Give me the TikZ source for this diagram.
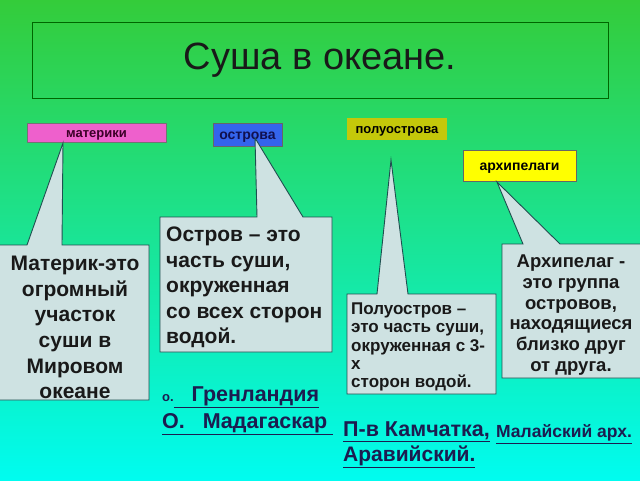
\documentclass[tikz,border=0pt]{standalone}
\usepackage{fontspec}
\setmainfont{Liberation Sans}
\definecolor{bgtop}{RGB}{52,204,58}
\definecolor{bgmid}{RGB}{30,222,140}
\definecolor{bgbot}{RGB}{0,252,240}
\definecolor{callfill}{RGB}{206,226,226}
\definecolor{callline}{RGB}{30,80,80}
\definecolor{navy}{RGB}{28,28,80}
\definecolor{pinkbox}{RGB}{238,96,204}
\definecolor{bluebox}{RGB}{52,100,236}
\definecolor{olivebox}{RGB}{196,200,10}
\definecolor{yelbox}{RGB}{255,255,0}
\begin{document}
\begin{tikzpicture}[x=1pt,y=-1pt,
  callout/.style={fill=callfill, draw=callline, line width=0.9pt, line join=miter},
  lab/.style={font=\bfseries\fontsize{13}{15}\selectfont, inner sep=0pt, text height=9pt, text depth=0pt},
  bigtxt/.style={font=\bfseries\fontsize{21}{25.6}\selectfont, text=black!90, inner sep=0pt},
  ex/.style={text=navy, inner sep=0pt, anchor=west}
]
\shade[top color=bgtop, middle color=bgmid, bottom color=bgbot] (0,0) rectangle (640,480);
\useasboundingbox (0,0) rectangle (640,480);

% title
\node[draw=black!60!green, line width=0.8pt, minimum width=576pt, minimum height=76pt,
      font=\fontsize{38}{40}\selectfont, text=black!90] (title) at (320,60) {Суша в океане.};

% labels
\node[lab, fill=pinkbox, draw=black!55, minimum width=139pt, minimum height=19pt, text={rgb,255:red,60;green,0;blue,40}] (mat) at (96.5,132.5) {материки};
\node[lab, fill=bluebox, draw=black!60, minimum width=69pt, minimum height=23pt, text={rgb,255:red,16;green,16;blue,80}, font=\bfseries\fontsize{14}{15}\selectfont] (ostr) at (247.5,134.5) {острова};
\node[lab, fill=olivebox, minimum width=100pt, minimum height=22pt] (polu) at (397,129) {полуострова};
\node[lab, fill=yelbox, draw=black!60, minimum width=113pt, minimum height=31pt, font=\bfseries\fontsize{14}{15}\selectfont] (arch) at (519.5,165.5) {архипелаги};

% callout tips
\coordinate (tmat) at (63,143);
\coordinate (tostr) at (255,138);
\coordinate (tpolu) at (391,160);
\coordinate (tarch) at (497,182);

% callouts
\draw[callout] (-2,245) -- (27,245) -- (tmat) -- (62,245) -- (149,245) -- (149,400) -- (-2,400) -- cycle;
\draw[callout] (160,217) -- (257,217) -- (tostr) -- (303,217) -- (332,217) -- (332,352) -- (160,352) -- cycle;
\draw[callout] (347,294) -- (377,294) -- (tpolu) -- (408,294) -- (496,294) -- (496,394) -- (347,394) -- cycle;
\draw[callout] (502,244) -- (523,244) -- (tarch) -- (560,244) -- (642,244) -- (642,378) -- (502,378) -- cycle;

% callout texts
\node[bigtxt, align=center] (tmattxt) at (75,327.5) {Материк-это\\огромный\\участок\\суши в\\Мировом\\океане};
\node[bigtxt, align=left, anchor=west] (tostrtxt) at (166,287.5) {Остров – это\\часть суши,\\окруженная\\со всех сторон\\водой.};
\node[font=\bfseries\fontsize{17}{18.2}\selectfont, text=black!90, inner sep=0pt, align=left, anchor=west] (tpolutxt) at (351,347) {Полуостров –\\это часть суши,\\окруженная с 3-\\х\\сторон водой.};
\node[font=\bfseries\fontsize{18.5}{20.8}\selectfont, text=black!90, inner sep=0pt, align=center] (tarchtxt) at (571,315) {Архипелаг -\\это группа\\островов,\\находящиеся\\близко друг\\от друга.};

% examples
\node[ex, font=\bfseries\fontsize{21.5}{22}\selectfont] (ex1) at (162,397) {{\fontsize{13}{14}\selectfont о.}\underline{\ \ \ Гренландия}};
\node[ex, font=\bfseries\fontsize{21.5}{22}\selectfont] (ex2) at (162,424) {\underline{О.\ \ \ Мадагаскар\ }};
\node[ex, font=\bfseries\fontsize{21.5}{22}\selectfont] (ex3) at (343,432) {\underline{П-в Камчатка,}};
\node[ex, font=\bfseries\fontsize{17.5}{18}\selectfont] (ex4) at (496,434) {\underline{Малайский арх.}};
\node[ex, font=\bfseries\fontsize{21}{22}\selectfont] (ex5) at (343,457) {\underline{Аравийский.}};
\end{tikzpicture}
\end{document}
